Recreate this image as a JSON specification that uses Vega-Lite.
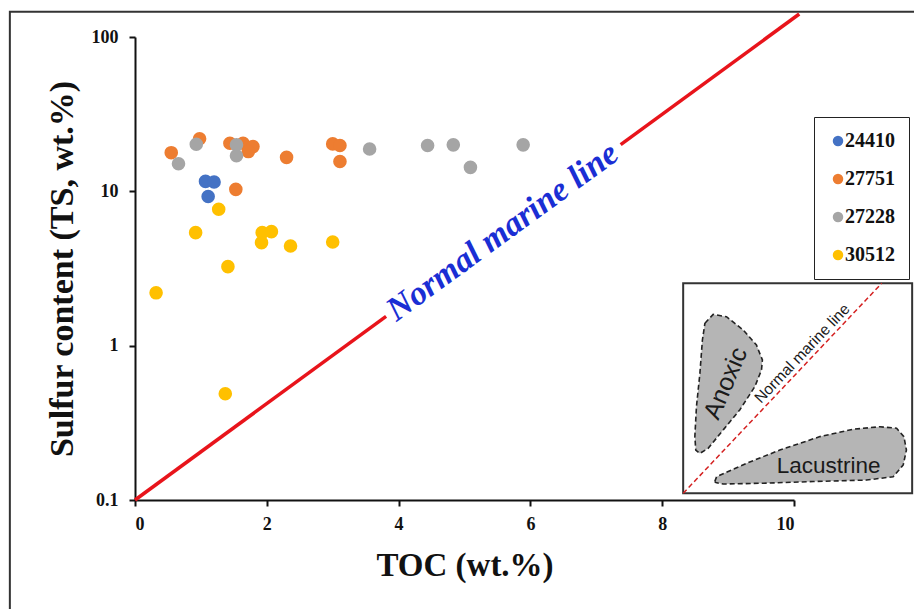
{
  "$schema": "https://vega.github.io/schema/vega-lite/v6.json",
  "width": 659,
  "height": 463,
  "autosize": {"type": "none"},
  "padding": {"left": 135, "top": 37, "right": 120, "bottom": 109},
  "background": "white",
  "config": {
    "view": {"stroke": null},
    "axis": {
      "grid": false,
      "domainColor": "#111",
      "domainWidth": 2,
      "tickColor": "#111",
      "tickWidth": 2,
      "tickSize": 6,
      "labelFont": "Liberation Serif",
      "labelFontWeight": "bold",
      "labelFontSize": 18,
      "labelColor": "#111",
      "titleFont": "Liberation Serif",
      "titleFontWeight": "bold",
      "titleColor": "#111"
    }
  },
  "datasets": {
    "pts": [
      {"Well": "24410", "TOC": 1.07, "TS": 11.6},
      {"Well": "24410", "TOC": 1.2, "TS": 11.5},
      {"Well": "24410", "TOC": 1.11, "TS": 9.25},
      {"Well": "27751", "TOC": 0.55, "TS": 17.8},
      {"Well": "27751", "TOC": 0.98, "TS": 21.9},
      {"Well": "27751", "TOC": 1.44, "TS": 20.5},
      {"Well": "27751", "TOC": 1.64, "TS": 20.5},
      {"Well": "27751", "TOC": 1.79, "TS": 19.5},
      {"Well": "27751", "TOC": 1.72, "TS": 18.1},
      {"Well": "27751", "TOC": 1.53, "TS": 10.3},
      {"Well": "27751", "TOC": 2.3, "TS": 16.6},
      {"Well": "27751", "TOC": 3.0, "TS": 20.3},
      {"Well": "27751", "TOC": 3.11, "TS": 19.8},
      {"Well": "27751", "TOC": 3.11, "TS": 15.6},
      {"Well": "27228", "TOC": 0.93, "TS": 20.2},
      {"Well": "27228", "TOC": 0.66, "TS": 15.1},
      {"Well": "27228", "TOC": 1.54, "TS": 20.0},
      {"Well": "27228", "TOC": 1.54, "TS": 17.0},
      {"Well": "27228", "TOC": 3.56, "TS": 18.8},
      {"Well": "27228", "TOC": 4.44, "TS": 19.8},
      {"Well": "27228", "TOC": 4.83, "TS": 20.0},
      {"Well": "27228", "TOC": 5.09, "TS": 14.3},
      {"Well": "27228", "TOC": 5.89, "TS": 20.0},
      {"Well": "30512", "TOC": 1.27, "TS": 7.66},
      {"Well": "30512", "TOC": 0.92, "TS": 5.4},
      {"Well": "30512", "TOC": 1.93, "TS": 5.4},
      {"Well": "30512", "TOC": 2.07, "TS": 5.48},
      {"Well": "30512", "TOC": 1.92, "TS": 4.65},
      {"Well": "30512", "TOC": 2.36, "TS": 4.42},
      {"Well": "30512", "TOC": 3.0, "TS": 4.7},
      {"Well": "30512", "TOC": 1.41, "TS": 3.25},
      {"Well": "30512", "TOC": 0.32, "TS": 2.2},
      {"Well": "30512", "TOC": 1.37, "TS": 0.488}
    ],
    "marine": [
      {"seg": "a", "TOC": 0, "TS": 0.1},
      {"seg": "a", "TOC": 3.81, "TS": 1.549},
      {"seg": "b", "TOC": 7.37, "TS": 20.06},
      {"seg": "b", "TOC": 10.08, "TS": 140.9}
    ],
    "frame": [{"x1": -1.899, "x2": 14, "y1": 145.6, "y2": 0.001}],
    "shapes": [
      {"shape": "anoxic", "i": 0, "u": 9.5, "v": 81.0},
      {"shape": "anoxic", "i": 1, "u": 13.1, "v": 85.2},
      {"shape": "anoxic", "i": 2, "u": 18.9, "v": 84.1},
      {"shape": "anoxic", "i": 3, "u": 26.2, "v": 77.8},
      {"shape": "anoxic", "i": 4, "u": 32.0, "v": 70.6},
      {"shape": "anoxic", "i": 5, "u": 34.6, "v": 63.5},
      {"shape": "anoxic", "i": 6, "u": 34.2, "v": 58.7},
      {"shape": "anoxic", "i": 7, "u": 31.3, "v": 50.8},
      {"shape": "anoxic", "i": 8, "u": 24.7, "v": 39.7},
      {"shape": "anoxic", "i": 9, "u": 17.5, "v": 30.2},
      {"shape": "anoxic", "i": 10, "u": 10.9, "v": 21.4},
      {"shape": "anoxic", "i": 11, "u": 7.3, "v": 19.0},
      {"shape": "anoxic", "i": 12, "u": 5.5, "v": 20.6},
      {"shape": "anoxic", "i": 13, "u": 5.1, "v": 27.0},
      {"shape": "anoxic", "i": 14, "u": 5.8, "v": 41.3},
      {"shape": "anoxic", "i": 15, "u": 7.3, "v": 57.1},
      {"shape": "anoxic", "i": 16, "u": 8.4, "v": 73.0},
      {"shape": "anoxic", "i": 17, "u": 9.5, "v": 81.0},
      {"shape": "lacustrine", "i": 0, "u": 13.8, "v": 5.6},
      {"shape": "lacustrine", "i": 1, "u": 14.6, "v": 7.9},
      {"shape": "lacustrine", "i": 2, "u": 27.7, "v": 14.3},
      {"shape": "lacustrine", "i": 3, "u": 42.2, "v": 20.6},
      {"shape": "lacustrine", "i": 4, "u": 59.7, "v": 27.0},
      {"shape": "lacustrine", "i": 5, "u": 74.2, "v": 30.5},
      {"shape": "lacustrine", "i": 6, "u": 85.9, "v": 31.7},
      {"shape": "lacustrine", "i": 7, "u": 93.2, "v": 31.0},
      {"shape": "lacustrine", "i": 8, "u": 96.4, "v": 27.0},
      {"shape": "lacustrine", "i": 9, "u": 97.5, "v": 20.6},
      {"shape": "lacustrine", "i": 10, "u": 96.1, "v": 13.5},
      {"shape": "lacustrine", "i": 11, "u": 91.7, "v": 7.9},
      {"shape": "lacustrine", "i": 12, "u": 80.1, "v": 6.3},
      {"shape": "lacustrine", "i": 13, "u": 56.8, "v": 5.6},
      {"shape": "lacustrine", "i": 14, "u": 34.9, "v": 4.8},
      {"shape": "lacustrine", "i": 15, "u": 17.5, "v": 4.4},
      {"shape": "lacustrine", "i": 16, "u": 14.3, "v": 5.1},
      {"shape": "lacustrine", "i": 17, "u": 13.8, "v": 5.6}
    ],
    "insetLabels": [
      {"txt": "Anoxic", "u": 18.5, "v": 52.4, "ang": 293, "fs": 25},
      {"txt": "Normal marine line", "u": 52.0, "v": 66.6, "ang": 313.5, "fs": 15.5},
      {"txt": "Lacustrine", "u": 63.5, "v": 13.2, "ang": 0, "fs": 22.5}
    ]
  },
  "layer": [
    {
      "layer": [
        {
          "data": {"name": "frame"},
          "mark": {"type": "rect", "fill": null, "stroke": "#333", "strokeWidth": 2, "clip": false},
          "encoding": {
            "x": {"field": "x1", "type": "quantitative", "scale": {"domain": [0, 10], "nice": false, "zero": false}},
            "x2": {"field": "x2"},
            "y": {"field": "y1", "type": "quantitative", "scale": {"type": "log", "domain": [0.1, 100], "nice": false}},
            "y2": {"field": "y2"}
          }
        },
        {
          "data": {"name": "marine"},
          "mark": {"type": "line", "color": "#e8141b", "strokeWidth": 3.5, "clip": false},
          "encoding": {
            "x": {"field": "TOC", "type": "quantitative"},
            "y": {"field": "TS", "type": "quantitative"},
            "detail": {"field": "seg"}
          }
        },
        {
          "data": {"name": "pts"},
          "mark": {"type": "circle", "size": 185, "opacity": 1},
          "encoding": {
            "x": {
              "field": "TOC", "type": "quantitative",
              "scale": {"domain": [0, 10], "nice": false, "zero": false},
              "axis": {"values": [0, 2, 4, 6, 8, 10], "format": "d", "title": "TOC (wt.%)", "titleFontSize": 33, "labelPadding": 9, "titlePadding": 16}
            },
            "y": {
              "field": "TS", "type": "quantitative",
              "scale": {"type": "log", "domain": [0.1, 100], "nice": false},
              "axis": {"values": [0.1, 1, 10, 100], "format": "~g", "title": "Sulfur content (TS, wt.%)", "titleFontSize": 34, "labelPadding": 11, "titlePadding": 12}
            },
            "color": {
              "field": "Well", "type": "nominal",
              "scale": {"domain": ["24410", "27751", "27228", "30512"], "range": ["#4472C4", "#ED7D31", "#A5A5A5", "#FFC000"]},
              "legend": {
                "orient": "none", "legendX": 679, "legendY": 80, "title": null,
                "strokeColor": "#222", "fillColor": "white",
                "padding": 14, "rowPadding": 18,
                "labelFont": "Liberation Serif", "labelFontWeight": "bold", "labelFontSize": 20, "labelColor": "#111",
                "labelOffset": -3, "symbolSize": 110, "symbolType": "circle"
              }
            }
          }
        },
        {
          "data": {"values": [{"TOC": 5.58, "TS": 5.45, "label": "Normal marine line"}]},
          "mark": {"type": "text", "angle": 323.8, "font": "Liberation Serif", "fontStyle": "italic", "fontWeight": "bold", "fontSize": 34, "color": "#1a2ed4", "align": "center", "baseline": "middle"},
          "encoding": {
            "x": {"field": "TOC", "type": "quantitative"},
            "y": {"field": "TS", "type": "quantitative"},
            "text": {"field": "label"}
          }
        }
      ]
    },
    {
      "layer": [
        {
          "data": {"values": [{"u1": 0, "u2": 100, "v1": 0, "v2": 100}]},
          "mark": {"type": "rect", "fill": "white", "stroke": "#333", "strokeWidth": 2, "clip": false},
          "encoding": {
            "x": {"field": "u1", "type": "quantitative", "scale": {"domain": [-239.4, 48.4], "nice": false, "zero": false}, "axis": null},
            "x2": {"field": "u2"},
            "y": {"field": "v1", "type": "quantitative", "scale": {"domain": [-3.19, 217.29], "nice": false, "zero": false}, "axis": null},
            "y2": {"field": "v2"}
          }
        },
        {
          "data": {"values": [{"u": 0, "v": 0}, {"u": 86.7, "v": 100}]},
          "mark": {"type": "line", "color": "#d42020", "strokeWidth": 1.5, "strokeDash": [5, 3], "clip": false},
          "encoding": {
            "x": {"field": "u", "type": "quantitative"},
            "y": {"field": "v", "type": "quantitative"}
          }
        },
        {
          "data": {"name": "shapes"},
          "mark": {"type": "line", "fill": "#b5b5b5", "stroke": "#222", "strokeWidth": 1.6, "strokeDash": [5, 3], "interpolate": "linear", "clip": false},
          "encoding": {
            "x": {"field": "u", "type": "quantitative"},
            "y": {"field": "v", "type": "quantitative"},
            "detail": {"field": "shape"},
            "order": {"field": "i", "type": "quantitative"}
          }
        },
        {
          "data": {"name": "insetLabels"},
          "mark": {"type": "text", "font": "Liberation Sans", "color": "#1a1a1a", "align": "center", "baseline": "middle"},
          "encoding": {
            "x": {"field": "u", "type": "quantitative"},
            "y": {"field": "v", "type": "quantitative"},
            "text": {"field": "txt"},
            "angle": {"field": "ang", "type": "quantitative", "scale": null},
            "size": {"field": "fs", "type": "quantitative", "scale": null}
          }
        }
      ]
    }
  ],
  "resolve": {"scale": {"x": "independent", "y": "independent"}}
}
